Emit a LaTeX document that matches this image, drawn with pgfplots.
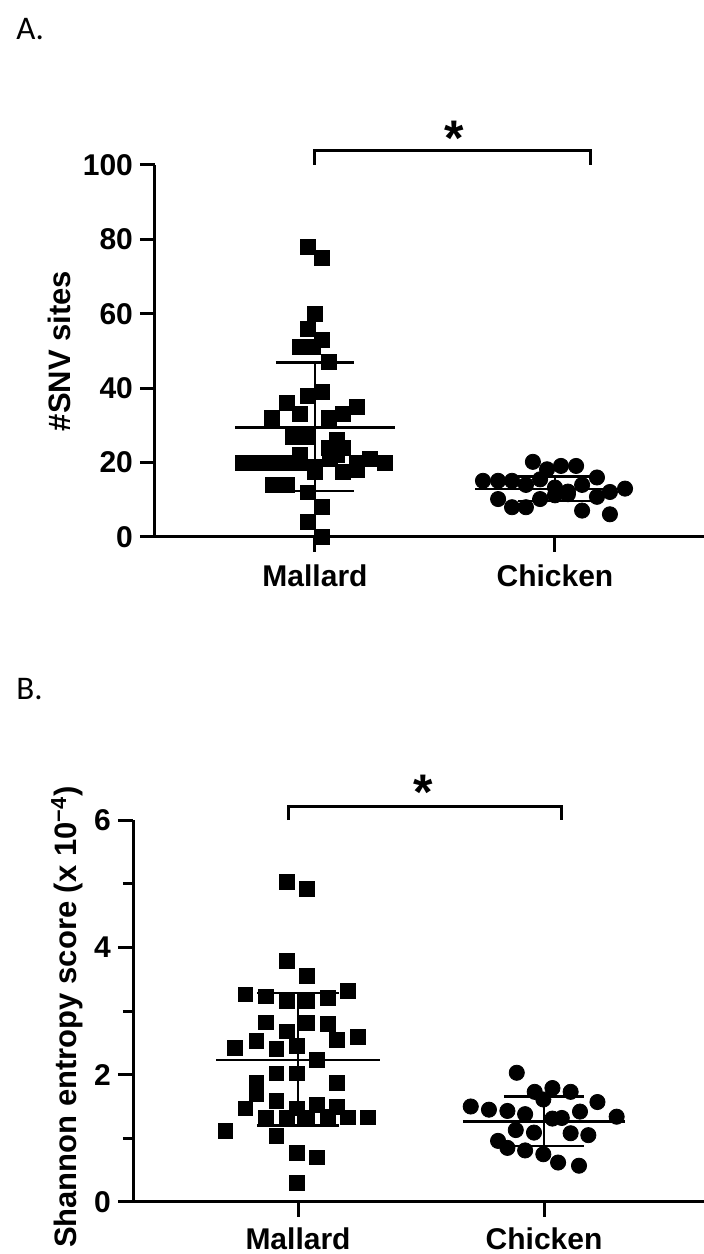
\documentclass[border=0pt]{standalone}
\usepackage{fontspec}
\setmainfont{Liberation Sans}
\newfontfamily\calib{Carlito}
\usepackage{pgfplots}
\pgfplotsset{compat=1.18}
\usepackage{pgfplotstable}

\pgfplotstableread{
x y
0.971 78
1.029 75
1.000 60
0.971 56
1.029 53
0.938 51
0.992 51
1.058 47
1.029 39
0.971 38
0.883 36
1.175 35
1.117 33
0.938 33
0.821 32
1.058 32
0.908 27
0.971 27
1.092 26
1.058 24
1.117 24
0.938 22
1.092 22
0.700 20
0.763 20
0.825 20
0.883 20
0.938 20
1.000 19
1.063 21
1.175 20
1.292 20
1.229 21
1.000 17.5
1.117 17.5
1.175 18
0.825 14
0.883 14
0.971 12
1.029 8
0.971 4
1.029 0
}\mallardA

\pgfplotstableread{
x y
1.908 20.2
1.967 18.2
2.025 19.1
2.088 19.1
2.175 16.0
1.700 15.1
1.763 15.1
1.821 15.1
1.879 14.0
1.938 15.5
2.000 13.3
2.113 14.0
2.054 12.2
2.229 12.1
2.292 13.0
2.175 10.8
1.763 10.2
1.938 10.2
2.000 11.2
1.821 8.0
1.879 8.0
2.113 7.1
2.229 6.1
2.054 11.5
}\chickenA

\pgfplotstableread{
x y
0.955 5.03
1.037 4.92
0.955 3.79
1.037 3.55
0.786 3.26
0.871 3.23
0.955 3.15
1.037 3.16
1.122 3.21
1.203 3.32
0.871 2.82
0.955 2.68
1.037 2.81
1.122 2.80
0.831 2.53
0.745 2.42
0.912 2.41
0.996 2.45
1.159 2.55
1.244 2.59
1.077 2.23
0.912 2.02
0.996 2.02
0.831 1.87
1.159 1.87
0.831 1.70
0.786 1.47
0.912 1.59
0.996 1.47
1.077 1.52
1.159 1.50
0.871 1.33
0.955 1.33
1.037 1.33
1.122 1.34
1.203 1.33
1.285 1.33
0.705 1.12
0.912 1.04
0.996 0.77
1.077 0.70
0.996 0.30
}\mallardB

\pgfplotstableread{
x y
1.889 2.03
1.962 1.73
2.034 1.79
2.108 1.73
1.997 1.61
2.217 1.57
1.702 1.50
1.776 1.45
1.851 1.43
1.923 1.38
2.146 1.42
2.034 1.31
2.072 1.32
2.295 1.34
1.885 1.13
1.959 1.09
2.108 1.08
2.180 1.05
1.813 0.96
1.851 0.85
1.923 0.81
1.997 0.75
2.057 0.62
2.142 0.57
}\chickenB

\pgfplotsset{
  dotstyle/.style={
    axis lines=left,
    axis line style={-, line width=1.5pt, black},
    scale only axis,
    clip=false,
    tick align=outside,
    major tick length=7.5pt,
    minor tick length=5pt,
    every tick/.style={line width=1.5pt, black},
    xtick={1,2},
    xticklabels={Mallard,Chicken},
    y tick label style={font=\bfseries\fontsize{15}{15}\selectfont},
    /pgf/number format/assume math mode=true,
  },
  sq/.style={only marks, mark=square*, mark size=3.7pt, black},
  ci/.style={only marks, mark=*, mark size=3.8pt, black},
  bar/.style={line width=1.3pt, black},
}

\begin{document}
\begin{tikzpicture}
\useasboundingbox (0,0) rectangle (352pt,627pt);

\node[anchor=base west, inner sep=0pt, font=\calib\fontsize{16.5}{16.5}\selectfont] at (8pt,607pt) {A.};
\node[anchor=base west, inner sep=0pt, font=\calib\fontsize{16.5}{16.5}\selectfont] at (8pt,277pt) {B.};

% Panel A
\begin{axis}[dotstyle,
  at={(77.5pt,358.5pt)}, anchor=south west,
  width=274.5pt, height=186pt,
  xmin=0.3333, xmax=2.621, ymin=0, ymax=100,
  ytick={0,20,40,60,80,100},
  x tick label style={font=\bfseries\fontsize{15}{15}\selectfont, inner sep=1pt, yshift=-5pt},
  ylabel={\#SNV sites},
  every axis y label/.style={at={(axis description cs:-0.175,0.5)}, rotate=90, anchor=center,
    font=\bfseries\fontsize{15.5}{15.5}\selectfont},
]
\addplot[sq] table {\mallardA};
\addplot[ci] table {\chickenA};
% mean and SD, Mallard
\addplot[bar] coordinates {(0.667,29.5) (1.333,29.5)};
\addplot[bar] coordinates {(0.837,46.9) (1.163,46.9)};
\addplot[bar] coordinates {(0.837,12.4) (1.163,12.4)};
\addplot[bar] coordinates {(1,12.4) (1,46.9)};
% mean and SD, Chicken
\addplot[bar] coordinates {(1.667,12.9) (2.325,12.9)};
\addplot[bar] coordinates {(1.845,16.2) (2.155,16.2)};
\addplot[bar] coordinates {(1.845,9.7) (2.155,9.7)};
\addplot[bar] coordinates {(2,9.7) (2,16.2)};
% significance bracket
\draw[line width=1.5pt] (axis cs:1,100) -- (axis cs:1,104) -- (axis cs:2.146,104) -- (axis cs:2.146,100);
\node[anchor=base, inner sep=0pt, font=\bfseries\fontsize{25}{25}\selectfont] at (axis cs:1.58,102.6) {*};
\end{axis}

% Panel B
\begin{axis}[dotstyle,
  at={(66.5pt,26pt)}, anchor=south west,
  width=285.5pt, height=191pt,
  xmin=0.3293, xmax=2.650, ymin=0, ymax=6,
  ytick={0,2,4,6},
  minor ytick={1,3,5},
  x tick label style={font=\bfseries\fontsize{15}{15}\selectfont, inner sep=1pt, yshift=-4pt},
  ylabel={Shannon entropy score (x 10\textsuperscript{−4})},
  every axis y label/.style={at={(axis description cs:-0.1156,0.484)}, rotate=90, anchor=center,
    font=\bfseries\fontsize{15.5}{15.5}\selectfont},
]
\addplot[sq] table {\mallardB};
\addplot[ci] table {\chickenB};
\addplot[bar] coordinates {(0.667,2.23) (1.333,2.23)};
\addplot[bar] coordinates {(0.835,3.28) (1.165,3.28)};
\addplot[bar] coordinates {(0.835,1.20) (1.165,1.20)};
\addplot[bar] coordinates {(1,1.20) (1,3.28)};
\addplot[bar] coordinates {(1.67,1.26) (2.33,1.26)};
\addplot[bar] coordinates {(1.837,1.66) (2.163,1.66)};
\addplot[bar] coordinates {(1.837,0.88) (2.163,0.88)};
\addplot[bar] coordinates {(2,0.88) (2,1.66)};
\draw[line width=1.5pt] (axis cs:0.96,6) -- (axis cs:0.96,6.217) -- (axis cs:2.07,6.217) -- (axis cs:2.07,6);
\node[anchor=base, inner sep=0pt, font=\bfseries\fontsize{25}{25}\selectfont] at (axis cs:1.508,6.17) {*};
\end{axis}
\end{tikzpicture}
\end{document}
